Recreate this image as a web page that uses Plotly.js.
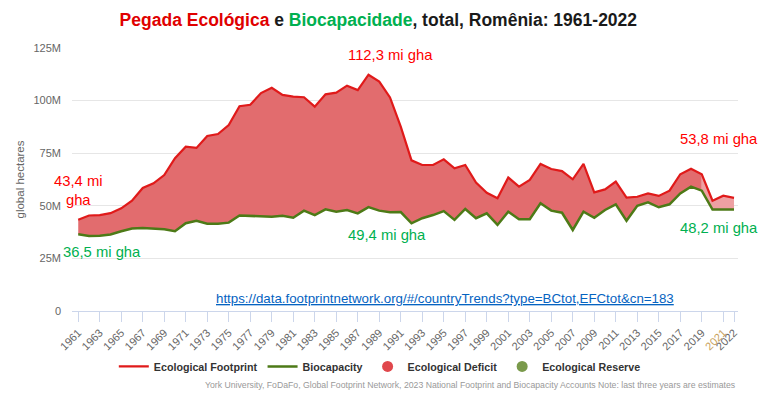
<!DOCTYPE html>
<html>
<head>
<meta charset="utf-8">
<script src="https://cdn.plot.ly/plotly-3.0.1.min.js"></script>
<style>html,body{margin:0;padding:0;background:#fff;}#chart{width:769px;height:394px;}</style>
</head>
<body>
<div id="chart"></div>
<script>
// Years 1961-2022
const years = [1961,1962,1963,1964,1965,1966,1967,1968,1969,1970,1971,1972,1973,1974,1975,1976,1977,1978,1979,1980,1981,1982,1983,1984,1985,1986,1987,1988,1989,1990,1991,1992,1993,1994,1995,1996,1997,1998,1999,2000,2001,2002,2003,2004,2005,2006,2007,2008,2009,2010,2011,2012,2013,2014,2015,2016,2017,2018,2019,2020,2021,2022];
// Ecological Footprint, million gha
const footprint = [43.4,45.4,45.6,46.5,48.8,52.4,58.5,60.7,64.6,72.6,78.1,77.5,83.2,84.1,88.4,97.3,98.0,103.6,106.1,102.7,101.9,101.6,97.1,103.0,103.8,107.1,105.0,112.3,109.0,101.5,87.6,71.6,69.4,69.4,72.1,67.8,69.4,61.0,56.2,53.6,63.5,59.1,62.3,69.9,67.5,66.5,62.6,69.9,56.4,57.8,61.5,53.9,54.3,55.9,54.7,57.2,65.0,67.6,65.0,52.4,54.8,53.8];
// Biocapacity, million gha
const biocapacity = [36.5,35.7,35.8,36.4,37.9,39.2,39.4,39.1,38.8,37.9,41.7,42.9,41.5,41.5,42.0,45.4,45.2,44.8,44.8,45.3,44.3,47.7,45.6,48.3,47.2,48.0,46.4,49.4,47.7,46.9,47.0,41.7,44.1,45.6,47.5,43.3,48.5,44.1,46.4,40.9,47.2,43.6,43.6,51.2,47.7,46.7,38.5,47.2,44.3,48.0,50.7,42.9,50.0,51.6,49.3,50.7,55.9,59.1,57.2,48.2,48.2,48.2];
// first year of estimates shading
const estimateStartYear = 2019;
// tick labels
const tickYears = [1961,1963,1965,1967,1969,1971,1973,1975,1977,1979,1981,1983,1985,1987,1989,1991,1993,1995,1997,1999,2001,2003,2005,2007,2009,2011,2013,2015,2017,2019,2021,2022];
const yTickVals = [0,25,50,75,100,125];
const yTickText = ['0','25M','50M','75M','100M','125M'];

const cut = years.indexOf(estimateStartYear);
const yrsA = years.slice(0, cut + 1), fpA = footprint.slice(0, cut + 1), bcA = biocapacity.slice(0, cut + 1);
const yrsB = years.slice(cut), fpB = footprint.slice(cut), bcB = biocapacity.slice(cut);

const RED = '#e01a1a', GREEN = '#4d7a17';
const traces = [
  {x: yrsA, y: bcA, type: 'scatter', mode: 'lines', line: {width: 0}, showlegend: false, hoverinfo: 'skip'},
  {x: yrsA, y: fpA, type: 'scatter', mode: 'lines', line: {width: 0}, fill: 'tonexty', fillcolor: 'rgb(226,108,110)', showlegend: false, hoverinfo: 'skip'},
  {x: yrsB, y: bcB, type: 'scatter', mode: 'lines', line: {width: 0}, showlegend: false, hoverinfo: 'skip'},
  {x: yrsB, y: fpB, type: 'scatter', mode: 'lines', line: {width: 0}, fill: 'tonexty', fillcolor: 'rgb(238,160,162)', showlegend: false, hoverinfo: 'skip'},
  {x: years, y: footprint, type: 'scatter', mode: 'lines', name: 'Ecological Footprint', line: {color: RED, width: 2.2}},
  {x: years, y: biocapacity, type: 'scatter', mode: 'lines', name: 'Biocapacity', line: {color: GREEN, width: 2.5}},
  {x: [null], y: [null], type: 'scatter', mode: 'markers', name: 'Ecological Deficit', marker: {color: '#e0474c', size: 11, symbol: 'circle'}},
  {x: [null], y: [null], type: 'scatter', mode: 'markers', name: 'Ecological Reserve', marker: {color: '#7a9a4b', size: 11, symbol: 'circle'}}
];

const tickText = tickYears.map(y => y === 2021 ? '<span style="color:#c9a25a">2021</span>' : String(y));
const annFont = {family: 'Liberation Sans, Arial, sans-serif', size: 14.8};
function ann(text, x, y, color) {
  return {text: text, x: x, y: y, xref: 'paper', yref: 'paper', xanchor: 'center', yanchor: 'middle', align: 'center', showarrow: false, font: Object.assign({color: color}, annFont)};
}
const layout = {
  width: 769, height: 394,
  margin: {l: 72, r: 31, t: 48, b: 83, pad: 0},
  paper_bgcolor: '#fff', plot_bgcolor: '#fff',
  font: {family: 'Liberation Sans, Arial, sans-serif', color: '#666', size: 11},
  title: {
    text: '<span style="color:#e00000">Pegada Ecológica</span> e <span style="color:#00b050">Biocapacidade</span>, total, Romênia: 1961-2022',
    font: {family: 'Liberation Sans, Arial, sans-serif', size: 17.5, color: '#1a1a1a', weight: 'bold'},
    x: 0.492, xanchor: 'center', y: 0.949, yanchor: 'middle'
  },
  xaxis: {
    range: [1960.42, 2022.37], tickmode: 'array', tickvals: tickYears, ticktext: tickText,
    tickangle: -45, showgrid: false, zeroline: false, showline: true, linecolor: '#ccd6eb', linewidth: 1,
    ticks: 'outside', ticklen: 10, tickcolor: '#ccd6eb', tickfont: {size: 11, color: '#666'}, fixedrange: true
  },
  yaxis: {
    range: [0, 125], tickmode: 'array', tickvals: yTickVals, ticktext: yTickText,
    showgrid: true, gridcolor: '#e6e6e6', zeroline: false, showline: false, ticks: '',
    ticklabelstandoff: 10, tickfont: {size: 11, color: '#666'},
    title: {text: 'global hectares', font: {size: 11.5, color: '#666'}, standoff: 6}, fixedrange: true
  },
  showlegend: true,
  legend: {
    orientation: 'h', x: 0.148, xref: 'container', xanchor: 'left', y: 0.07, yref: 'container', yanchor: 'middle',
    font: {size: 10.7, color: '#333', weight: 'bold'}, traceorder: 'normal', itemclick: false, bgcolor: 'rgba(0,0,0,0)'
  },
  annotations: [
    ann('112,3 mi gha', 0.4775, 0.973, '#ff0000'),
    ann('43,4 mi<br>gha', 0.0105, 0.46, '#ff0000'),
    ann('36,5 mi gha', 0.045, 0.2243, '#00b050'),
    ann('49,4 mi gha', 0.473, 0.289, '#00b050'),
    ann('53,8 mi gha', 0.9715, 0.654, '#ff0000'),
    ann('48,2 mi gha', 0.9715, 0.3156, '#00b050'),
    {text: '<u>https://data.footprintnetwork.org/#/countryTrends?type=BCtot,EFCtot&cn=183</u>', x: 0.56, y: 0.0494, xref: 'paper', yref: 'paper', xanchor: 'center', yanchor: 'middle', showarrow: false, bgcolor: '#fff', font: {family: 'Liberation Sans, Arial, sans-serif', size: 13.3, color: '#0563c1'}},
    {text: 'York University, FoDaFo, Global Footprint Network, 2023 National Footprint and Biocapacity Accounts Note: last three years are estimates', x: 1.0, y: -0.281, xref: 'paper', yref: 'paper', xanchor: 'right', yanchor: 'middle', showarrow: false, font: {family: 'Liberation Sans, Arial, sans-serif', size: 8.7, color: '#999'}}
  ]
};
Plotly.newPlot('chart', traces, layout, {displayModeBar: false, staticPlot: true});
</script>
</body>
</html>
